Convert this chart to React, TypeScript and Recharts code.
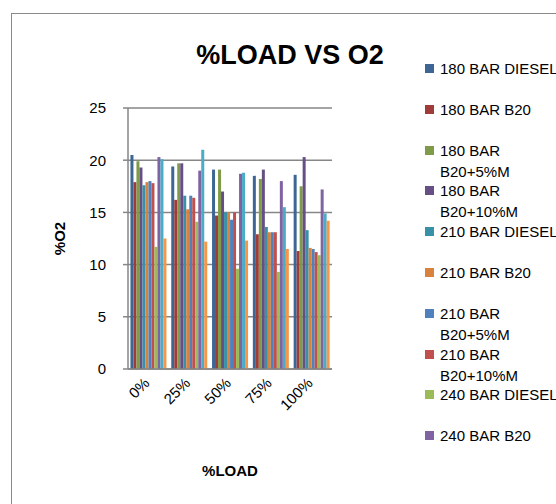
import React from 'react';
import { BarChart, Bar, XAxis, YAxis, CartesianGrid, Label } from 'recharts';

const loads = ['0%', '25%', '50%', '75%', '100%'];

const seriesNames = [
  '180 BAR DIESEL',
  '180 BAR B20',
  '180 BAR B20+5%M',
  '180 BAR B20+10%M',
  '210 BAR DIESEL',
  '210 BAR B20',
  '210 BAR B20+5%M',
  '210 BAR B20+10%M',
  '240 BAR DIESEL',
  '240 BAR B20',
  '240 BAR B20+5%M',
  '240 BAR B20+10%M',
];

const bar180Diesel = [20.5, 19.4, 19.1, 18.5, 18.6];
const bar180B20 = [17.9, 16.2, 14.7, 12.9, 11.3];
const bar180B20M5 = [19.9, 19.7, 19.1, 18.2, 17.5];
const bar180B20M10 = [19.3, 19.7, 17.0, 19.1, 20.3];
const bar210Diesel = [17.6, 16.6, 15.0, 13.6, 13.3];
const bar210B20 = [17.9, 15.3, 15.0, 13.1, 11.6];
const bar210B20M5 = [18.0, 16.6, 14.3, 13.1, 11.5];
const bar210B20M10 = [17.8, 16.4, 15.0, 13.1, 11.2];
const bar240Diesel = [11.7, 14.1, 9.6, 9.3, 10.9];
const bar240B20 = [20.3, 19.0, 18.7, 18.0, 17.2];
const bar240B20M5 = [20.1, 21.0, 18.8, 15.5, 14.9];
const bar240B20M10 = [12.5, 12.2, 12.3, 11.5, 14.2];

const allSeries = [
  bar180Diesel, bar180B20, bar180B20M5, bar180B20M10,
  bar210Diesel, bar210B20, bar210B20M5, bar210B20M10,
  bar240Diesel, bar240B20, bar240B20M5, bar240B20M10,
];

const colors = [
  '#3D6695', '#9F3C39', '#7F9A48', '#664F84', '#3891A7', '#D9823D',
  '#4F81BD', '#C0504D', '#9BBB59', '#8064A2', '#4BACC6', '#F79646',
];

const yTicks = [0, 5, 10, 15, 20, 25];

// only the first 10 entries fit in the legend box
const legendCount = 10;

const data = loads.map((load, i) => {
  const row: Record<string, string | number> = { load };
  seriesNames.forEach((name, s) => {
    row[name] = allSeries[s][i];
  });
  return row;
});

const font = '"Liberation Sans", Arial, sans-serif';

const XTick = (props: any) => {
  const { x, y, payload } = props;
  return (
    <g transform={`translate(${x + 2},${y + 7})`}>
      <text textAnchor="end" transform="rotate(-45)" fontSize={15} fontFamily={font} fill="#000">
        {payload.value}
      </text>
    </g>
  );
};

const LegendBox = () => (
  <div style={{ position: 'absolute', left: 425, top: 58, fontFamily: font, fontSize: 15, color: '#000' }}>
    {seriesNames.slice(0, legendCount).map((name, i) => (
      <div
        key={name}
        style={{ position: 'absolute', left: 0, top: i * 40.8, display: 'flex', alignItems: 'flex-start' }}
      >
        <span style={{ width: 9, height: 9, background: colors[i], marginTop: 6, marginRight: 6, flex: 'none' }} />
        <span style={{ width: 118, lineHeight: '21px', whiteSpace: 'normal' }}>{name}</span>
      </div>
    ))}
  </div>
);

export default function App() {
  return (
    <div style={{ position: 'absolute', left: 0, top: 0, width: 556, height: 504, overflow: 'hidden', background: '#fff' }}>
      <div style={{ position: 'absolute', left: 11, top: 13, width: 700, height: 700, border: '1.5px solid #8a8a8a' }} />
      <div
        style={{
          position: 'absolute', left: 190, width: 200, top: 40, textAlign: 'center',
          fontFamily: font, fontWeight: 'bold', fontSize: 27, color: '#000',
        }}
      >
        %LOAD VS O2
      </div>
      <div style={{ position: 'absolute', left: 0, top: 0 }}>
        <BarChart
          width={556}
          height={504}
          data={data}
          margin={{ top: 108, right: 224, left: 88, bottom: 75 }}
          barCategoryGap="6%"
          barGap={0}
        >
          <CartesianGrid vertical={false} stroke="#868686" strokeWidth={1.5} />
          <XAxis
            dataKey="load"
            height={60}
            tick={<XTick />}
            tickLine={false}
            axisLine={{ stroke: '#868686', strokeWidth: 1.5 }}
            interval={0}
          >
            <Label value="%LOAD" position="insideBottom" offset={-47} style={{ fontFamily: font, fontWeight: 'bold', fontSize: 15, fill: '#000' }} />
          </XAxis>
          <YAxis
            width={40}
            domain={[0, 25]}
            ticks={yTicks}
            tickSize={5}
            tickMargin={17}
            axisLine={{ stroke: '#868686', strokeWidth: 1.5 }}
            tickLine={{ stroke: '#868686', strokeWidth: 1.5 }}
            tick={{ fontSize: 15, fontFamily: font, fill: '#000' }}
          >
            <Label
              value="%O2"
              angle={-90}
              position="insideLeft"
              offset={-28}
              style={{ fontFamily: font, fontWeight: 'bold', fontSize: 15, fill: '#000', textAnchor: 'middle' }}
            />
          </YAxis>
          {seriesNames.map((name, i) => (
            <Bar key={name} dataKey={name} fill={colors[i]} isAnimationActive={false} />
          ))}
        </BarChart>
      </div>
      <LegendBox />
    </div>
  );
}
